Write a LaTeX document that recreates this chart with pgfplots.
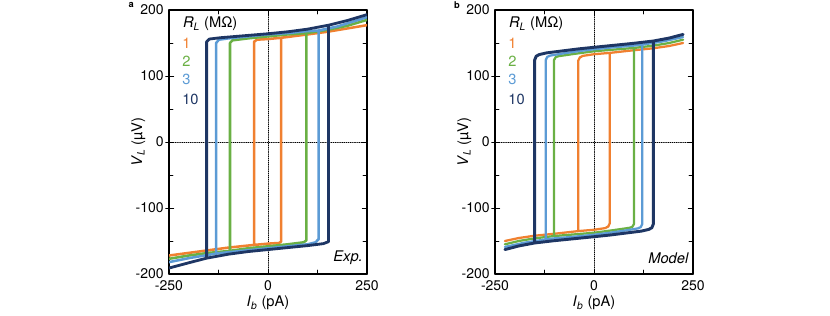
\documentclass[border=0pt]{standalone}
\usepackage{pgfplots}
\pgfplotsset{compat=1.18}
\usepackage{fontspec}
\setmainfont{TeX Gyre Heros}
\definecolor{cOr}{RGB}{240,128,48}
\definecolor{cGr}{RGB}{106,176,68}
\definecolor{cLb}{RGB}{92,155,213}
\definecolor{cNv}{RGB}{30,54,100}
\tikzset{lgd/.style={anchor=west, inner sep=0pt, font=\fontsize{11}{13}\selectfont}}
\pgfplotsset{
  myaxis/.style={
    scale only axis, width=148.5pt, height=198pt,
    xmin=-250, xmax=250, ymin=-200, ymax=200,
    xtick={-250,0,250}, minor xtick={-125,125},
    ytick={-200,-100,0,100,200}, minor ytick={-150,-50,50,150},
    extra y ticks={-100,0,100}, extra y tick labels={},
    extra y tick style={tick align=outside, major tick length=2.5pt, ytick pos=left},
    tick align=inside, major tick length=3.5pt, minor tick length=3pt,
    tick style={black, line width=0.6pt},
    axis line style={line width=0.8pt},
    font=\fontsize{10.5}{12}\selectfont,
    /pgf/number format/assume math mode=true,
    xticklabel style={yshift=-1.5pt},
    yticklabel style={xshift=-0.5pt},
    xlabel={\textit{I}\textsubscript{\textit{b}} (pA)},
    ylabel={\textit{V}\textsubscript{\textit{L}} (µV)},
    label style={font=\fontsize{11}{13}\selectfont},
    xlabel style={at={(axis description cs:0.5,-0.11)}, anchor=center},
    ylabel style={at={(axis description cs:-0.155,0.5)}, anchor=center},
    line join=round, line cap=round,
  },
}
\begin{document}
\begin{tikzpicture}
\path[use as bounding box] (0,0) rectangle (622.5pt,237pt);
% ---------------- panel a (Exp.)
\begin{axis}[myaxis, at={(126.75pt,31.5pt)}, anchor=south west]
\addplot[black, densely dotted, line width=0.6pt] coordinates {(0,-200)(0,200)};
\addplot[black, densely dotted, line width=0.6pt] coordinates {(-250,0)(250,0)};
% 1 MOhm
\addplot[cOr, line width=1.9pt] coordinates {
(-250,-172)(-200,-168)(-150,-164)(-100,-160)(-36,-156)(0,-154)(28,-153)(33,-151)
(33,158)(100,163)(150,167)(200,172)(250,177)
(200,172)(150,167)(100,163)(35,158)(0,156)(-28,155)(-35,152)(-35,-156)};
% 2 MOhm
\addplot[cGr, line width=1.9pt] coordinates {
(-250,-177)(-200,-172)(-150,-168)(-97,-165)(-50,-161)(0,-158)(50,-155)(90,-152)(97,-149)
(97,165)(150,170)(200,176)(250,185)
(200,176)(150,170)(98,165)(50,163)(0,160)(-50,157)(-90,154)(-96,150)(-96,-165)};
% 3 MOhm
\addplot[cLb, line width=1.9pt] coordinates {
(-250,-182)(-200,-176)(-130,-169)(-100,-167)(-50,-164)(0,-161)(50,-158)(100,-155)(120,-152)(128,-147)
(128,169)(175,175)(250,189)
(175,175)(130,169)(100,168)(50,165)(0,163)(-50,160)(-100,157)(-124,155)(-131,150)(-131,-169)};
% 10 MOhm
\addplot[cNv, line width=2.1pt] coordinates {
(-250,-191)(-200,-183)(-155,-176)(-100,-170)(-50,-166)(0,-163)(50,-160)(100,-157)(140,-154)(153,-151)
(153,177)(200,184)(250,193)
(200,184)(153,177)(100,171)(50,167)(0,164)(-40,162)(-80,160)(-120,158)(-148,156)(-155,152)(-155,-176)};
\node[lgd] at (axis cs:-215,179) {\textit{R}\textsubscript{\textit{L}} (MΩ)};
\node[lgd, text=cOr] at (axis cs:-217,150) {1};
\node[lgd, text=cGr] at (axis cs:-217,123) {2};
\node[lgd, text=cLb] at (axis cs:-217,95) {3};
\node[lgd, text=cNv] at (axis cs:-217,65) {10};
\node[anchor=east, inner sep=0pt, font=\fontsize{11}{13}\selectfont] at (axis cs:240,-176) {\textit{Exp.}};
\end{axis}
\node[font=\fontsize{7}{8}\selectfont\bfseries] at (98.5pt,233pt) {a};
% ---------------- panel b (Model)
\begin{axis}[myaxis, at={(371.25pt,31.5pt)}, anchor=south west]
\addplot[black, densely dotted, line width=0.6pt] coordinates {(0,-200)(0,200)};
\addplot[black, densely dotted, line width=0.6pt] coordinates {(-250,0)(250,0)};
% 1 MOhm
\addplot[cOr, line width=1.7pt] coordinates {
(-225,-150)(-190,-145.5)(-150,-142)(-100,-139)(-40,-135)(0,-133)(28,-130.5)(36,-128)(40,-123)
(40,135)(100,139)(150,142)(190,145.5)(225,150)
(190,145.5)(150,142)(100,139)(40,135)(0,133)(-28,130.5)(-36,128)(-40,123)(-40,-135)};
% 2 MOhm
\addplot[cGr, line width=1.7pt] coordinates {
(-225,-155)(-190,-150)(-150,-146)(-101,-142.5)(-50,-140)(0,-137.5)(50,-133.5)(90,-130)(97,-128.5)(101,-124)
(101,142.5)(150,146)(190,150)(225,155)
(190,150)(150,146)(101,142.5)(50,140)(0,137.5)(-50,133.5)(-90,130)(-97,128.5)(-101,124)(-101,-142.5)};
% 3 MOhm
\addplot[cLb, line width=1.7pt] coordinates {
(-225,-159)(-175,-152.5)(-122,-147.5)(-100,-146)(-50,-143.5)(0,-140.5)(40,-137.5)(80,-134)(110,-131)(118,-129)(122,-124)
(122,147.5)(175,152.5)(225,159)
(175,152.5)(122,147.5)(100,146)(50,143.5)(0,140.5)(-40,137.5)(-80,134)(-110,131)(-118,129)(-122,124)(-122,-147.5)};
% 10 MOhm
\addplot[cNv, line width=2.2pt] coordinates {
(-225,-163)(-190,-157.5)(-150,-153)(-100,-149.5)(-50,-146.5)(0,-143.5)(40,-141)(80,-138)(120,-135)(138,-132.5)(146,-130)(150,-124)
(150,153)(190,157.5)(225,163)
(190,157.5)(150,153)(100,149.5)(50,146.5)(0,143.5)(-40,141)(-80,138)(-120,135)(-138,132.5)(-146,130)(-150,124)(-150,-153)};
\node[lgd] at (axis cs:-215,179) {\textit{R}\textsubscript{\textit{L}} (MΩ)};
\node[lgd, text=cOr] at (axis cs:-217,150) {1};
\node[lgd, text=cGr] at (axis cs:-217,123) {2};
\node[lgd, text=cLb] at (axis cs:-217,95) {3};
\node[lgd, text=cNv] at (axis cs:-217,65) {10};
\node[anchor=east, inner sep=0pt, font=\fontsize{11}{13}\selectfont] at (axis cs:240,-176) {\textit{Model}};
\end{axis}
\node[font=\fontsize{7}{8}\selectfont\bfseries] at (342.75pt,233pt) {b};
\end{tikzpicture}
\end{document}
